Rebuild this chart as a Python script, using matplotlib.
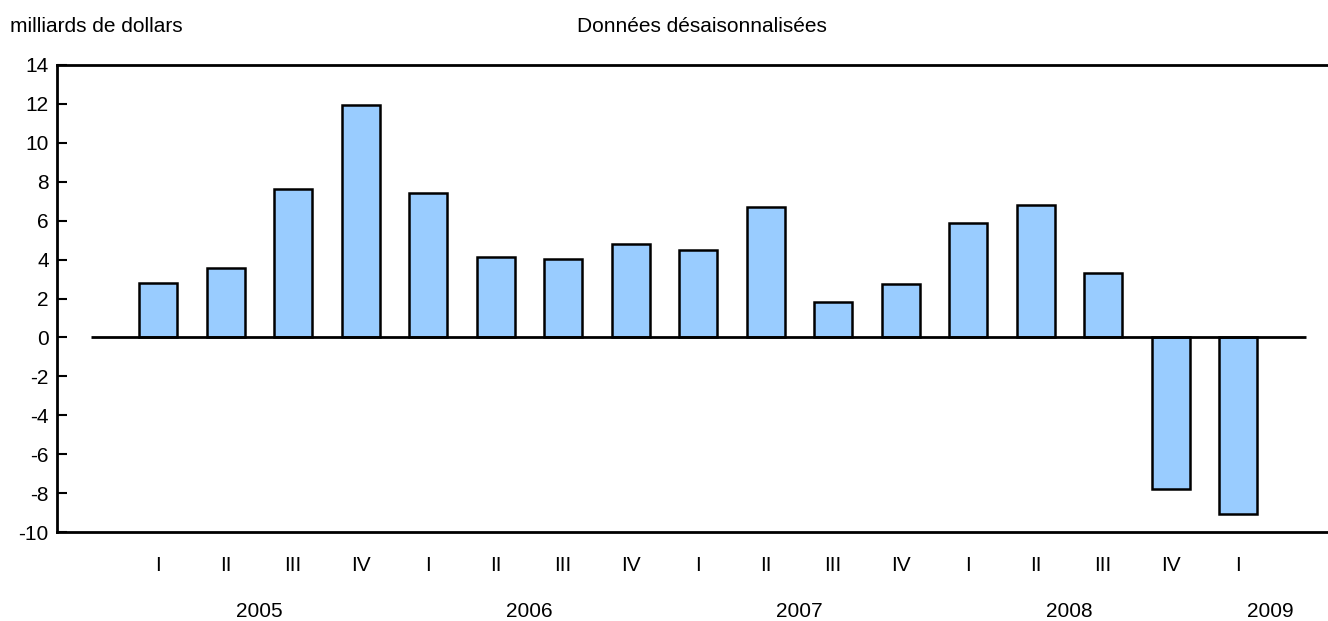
import matplotlib.pyplot as plt
import numpy as np

quarters = ['I', 'II', 'III', 'IV', 'I', 'II', 'III', 'IV', 'I', 'II', 'III', 'IV',
            'I', 'II', 'III', 'IV', 'I']
values = [2.8, 3.55, 7.65, 11.95, 7.4, 4.15, 4.05, 4.8, 4.5, 6.7, 1.8, 2.75,
          5.9, 6.8, 3.3, -7.8, -9.05]
years = ['2005', '2006', '2007', '2008', '2009']
year_pos = [1.5, 5.5, 9.5, 13.5, 16.47]

plt.rcParams['font.family'] = ['Liberation Sans', 'DejaVu Sans']
plt.rcParams['axes.unicode_minus'] = False
fs = 15

fig = plt.figure(figsize=(13.28, 6.21), dpi=100)
ax = fig.add_axes([57 / 1328, 89 / 621, 1 - 57 / 1328, 467 / 621])

x = np.arange(len(values))
ax.bar(x, values, width=0.56, color='#99ccff', edgecolor='black', linewidth=1.8, zorder=2)
ax.hlines(0, -1, 17, color='black', linewidth=2, zorder=3)

ax.set_xlim(-1.5, 17.33)
ax.set_ylim(-10, 14)
ax.set_yticks(np.arange(-10, 15, 2))
ax.tick_params(axis='y', direction='in', length=7, width=1.5, labelsize=fs, pad=6)
ax.set_xticks(x)
ax.set_xticklabels(quarters, fontsize=fs)
ax.tick_params(axis='x', length=0, pad=17)

for s in ['left', 'top', 'bottom']:
    ax.spines[s].set_linewidth(2)
ax.spines['right'].set_visible(False)

for pos, yr in zip(year_pos, years):
    ax.text(pos, -0.17, yr, transform=ax.get_xaxis_transform(), ha='center', va='center', fontsize=fs)

fig.text(10 / 1328, 1 - 26 / 621, 'milliards de dollars', ha='left', va='center', fontsize=fs)
fig.text(577 / 1328, 1 - 26 / 621, 'Données désaisonnalisées', ha='left', va='center', fontsize=fs)

plt.savefig('out.png', dpi=100)
